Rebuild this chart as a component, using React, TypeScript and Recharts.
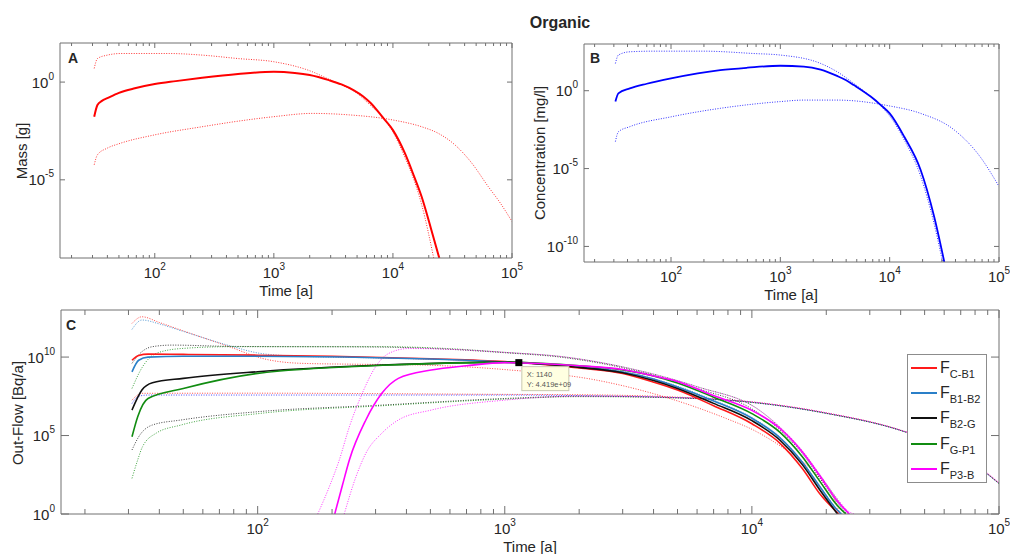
import { Legend, Line, LineChart, ReferenceDot, XAxis, YAxis } from "recharts";

const FONT = '"Liberation Sans", Arial, Helvetica, sans-serif';
const AXIS_GREY = "#707070";
const INK = "#262626";

// log time axis shared by the three panels
const timeDomain = [16, 100000];
const timeTicks = [
  20, 30, 40, 50, 60, 70, 80, 90, 100, 200, 300, 400, 500, 600, 700, 800, 900, 1000, 2000, 3000, 4000,
  5000, 6000, 7000, 8000, 9000, 10000, 20000, 30000, 40000, 50000, 60000, 70000, 80000, 90000, 100000,
];

const massDomain = [1e-9, 1e2];
const massTicks = [1e-5, 1];
const concDomain = [1e-11, 1e3];
const concTicks = [1e-10, 1e-5, 1];
const flowDomain = [1, 1e13];
const flowTicks = [1, 1e5, 1e10];

// panel A: mass [g] vs time [a] (t, value)
const massMid = [
  [31, 1.7e-2], [33, 6.8e-2], [36, 0.11], [40, 0.15], [50, 0.28], [68, 0.48], [100, 0.79], [150, 1.12],
  [250, 1.66], [500, 2.6], [1000, 3.4], [1500, 2.95], [2000, 2.3], [2900, 1.26], [3700, 0.76],
  [4700, 0.38], [5600, 0.19], [6500, 8.5e-2], [7400, 3.5e-2], [8350, 1.4e-2], [10000, 3.5e-3],
  [12600, 2.3e-4], [15000, 1.6e-5], [17400, 1.4e-6], [21000, 2.8e-8], [24500, 1e-9],
];
const massHigh = [
  [31, 5.0], [33, 16], [40, 24], [52, 29], [132, 29], [250, 24], [500, 16], [1000, 11], [2100, 3.4],
  [2900, 1.4], [3700, 0.72], [4700, 0.35], [6500, 6.3e-2], [8350, 1.4e-2], [10000, 2.8e-3],
  [12600, 1.4e-4], [15000, 1e-5], [17400, 5.6e-7], [22000, 1e-9],
];
const massLow = [
  [31, 5.9e-5], [33, 1.9e-4], [40, 4.2e-4], [50, 7e-4], [100, 2e-3], [250, 5.2e-3], [500, 1e-2],
  [1000, 1.7e-2], [2100, 2.5e-2], [4300, 2.1e-2], [10000, 1.15e-2], [17400, 5.2e-3], [24000, 2.4e-3],
  [33000, 6.3e-4], [46000, 7.1e-5], [63000, 4.6e-6], [80000, 6.3e-7], [100000, 7.4e-8],
];

// panel B: concentration [mg/l]
const concMid = [
  [31, 0.2], [33, 0.68], [42, 1.4], [60, 2.8], [100, 6.2], [282, 21], [500, 30], [1000, 40], [1640, 35.5],
  [2340, 22.4], [3300, 8.9], [4000, 4.7], [4700, 2.3], [6700, 0.42], [8300, 0.12], [10000, 3.5e-2],
  [13600, 1.1e-3], [19200, 8.1e-6], [25500, 8.3e-9], [31600, 1e-11],
];
const concHigh = [
  [31, 56], [33, 195], [42, 316], [69, 347], [198, 347], [570, 245], [1000, 195], [2340, 56],
  [3300, 16.6], [4700, 2.95], [6700, 0.42], [8300, 0.105], [10000, 2.4e-2], [13600, 6.9e-4],
  [19200, 3.2e-6], [25000, 5e-9], [30500, 1e-11],
];
const concLow = [
  [31, 5.4e-4], [33, 2.3e-3], [42, 4.9e-3], [100, 2.1e-2], [282, 7.4e-2], [1000, 0.2], [1640, 0.25],
  [3300, 0.25], [10000, 0.105], [19200, 3.5e-2], [39000, 3e-3], [67000, 5.9e-5], [100000, 7.1e-7],
];

// panel C: out-flow [Bq/a] per pathway, central run plus upper and lower runs
const flowCB1 = [
  [31, 6.3e9], [33, 1.26e10], [36, 1.55e10], [50, 1.48e10], [100, 1.32e10], [200, 1.12e10], [500, 7.9e9],
  [1000, 5.2e9], [2000, 2.0e9], [3000, 8.9e8], [4000, 2.5e8], [5000, 7.9e7], [7000, 7.9e6],
  [10000, 5.6e5], [13000, 3.2e4], [16000, 790], [19000, 16], [22500, 1],
];
const flowCB1Up = [
  [31, 1.4e12], [34, 3.7e12], [40, 1.6e12], [49, 5.2e11], [78, 4.2e10], [103, 8.7e9], [150, 4e9],
  [250, 3.5e9], [430, 3.2e9], [1000, 1.6e9], [2350, 3.4e8], [4400, 3e7], [8000, 1.1e6], [10000, 2.5e5],
  [12000, 5e4], [14000, 1e4], [17000, 1000], [19500, 100], [21500, 10], [22700, 1],
];
const flowCB1Low = [
  [31, 1.8e7], [34, 4.9e7], [100, 5e7], [1000, 4.2e7], [2000, 4e7], [5000, 2.8e7], [10000, 1.4e7],
  [20000, 2.8e6], [40000, 2.2e5], [70000, 6.3e3], [100000, 91],
];
const flowB1B2 = [
  [31, 1.15e9], [33, 6.3e9], [36, 1e10], [50, 1.12e10], [100, 1.12e10], [500, 7.6e9], [1000, 4.8e9],
  [2000, 2.4e9], [3000, 1.12e9], [4000, 4e8], [5000, 1.26e8], [7000, 1.6e7], [10000, 1.26e6],
  [13000, 7.1e4], [16000, 2e3], [19000, 45], [22000, 2], [23000, 1],
];
const flowB1B2Up = [
  [31, 5.8e11], [34, 2.3e12], [40, 1.3e12], [49, 4.8e11], [78, 5e10], [103, 1.7e10], [150, 1.12e10],
  [300, 8.9e9], [1000, 5e9], [2000, 2.5e9], [3000, 1.2e9], [5000, 1.4e8], [7000, 1.8e7], [10000, 1.4e6],
  [13000, 7.9e4], [16000, 2.2e3], [19000, 50], [22000, 2.2], [23300, 1],
];
const flowB1B2Low = [
  [31, 1.1e7], [33, 3.2e7], [36, 3.8e7], [100, 3.8e7], [1000, 3.8e7], [2000, 3.5e7], [5000, 2.6e7],
  [10000, 1.3e7], [20000, 2.6e6], [40000, 2.1e5], [70000, 6e3], [100000, 85],
];
const flowB2G = [
  [31, 4.2e6], [34, 7.9e7], [37.5, 2.3e8], [50, 4.4e8], [100, 1.17e9], [320, 3.1e9], [1000, 4.8e9],
  [2000, 2.2e9], [3000, 1e9], [4000, 3.2e8], [5000, 1e8], [7000, 1.12e7], [10000, 8.9e5], [13000, 5e4],
  [16000, 1.4e3], [19000, 28], [22200, 1],
];
const flowB2GUp = [
  [31, 4e9], [34, 2.2e10], [37.5, 4.6e10], [45, 5.8e10], [78, 4.8e10], [300, 4.4e10], [1000, 1.9e10],
  [1720, 9.5e9], [3200, 1.66e9], [6000, 1e8], [10000, 5e6], [13000, 2.2e5], [16000, 7.1e3], [19000, 160],
  [22000, 6.3], [24200, 1],
];
const flowB2GLow = [
  [31, 1.2e4], [33, 8.3e4], [37.5, 4.7e5], [49, 9.8e5], [100, 3.3e6], [318, 8.7e6], [1000, 2.3e7],
  [2000, 3.2e7], [5000, 2.5e7], [10000, 1.3e7], [20000, 2.6e6], [40000, 2.1e5], [70000, 6.3e3],
  [100000, 89],
];
const flowGP1 = [
  [31, 8.3e4], [32.7, 1.6e6], [36, 2.3e7], [50, 1e8], [100, 9.1e8], [320, 3e9], [1000, 4.6e9],
  [2000, 2.8e9], [3000, 1.5e9], [4000, 6.3e8], [5000, 2.2e8], [7000, 2.8e7], [10000, 2.5e6],
  [13000, 1.6e5], [16000, 4.5e3], [19000, 100], [22000, 4], [24000, 1],
];
const flowGP1Up = [
  [31, 1e8], [34.2, 2.4e9], [38.8, 1.7e10], [49, 3.5e10], [78, 4.6e10], [318, 4.6e10], [587, 3.5e10],
  [1000, 2e10], [1720, 1.05e10], [3200, 1.9e9], [6000, 1.3e8], [10700, 4.2e6], [13000, 3.2e5],
  [16000, 1e4], [19000, 250], [22000, 10], [24500, 1],
];
const flowGP1Low = [
  [31, 186], [32.7, 2.8e3], [34.2, 1.95e4], [38.8, 1.4e5], [49, 4.7e5], [103, 2.6e6], [318, 7.9e6],
  [1000, 2.1e7], [2000, 3e7], [5000, 2.5e7], [10000, 1.3e7], [20000, 2.6e6], [40000, 2.1e5],
  [70000, 6.3e3], [100000, 89],
];
const flowP3B = [
  [205, 1], [220, 63], [235, 2.8e3], [274, 9.8e5], [318, 4.9e7], [371, 4.4e8], [504, 1.5e9], [700, 2.8e9],
  [1000, 4.4e9], [2000, 2.8e9], [3000, 1.6e9], [4000, 6.3e8], [5000, 2.8e8], [7000, 3.5e7], [10000, 4e6],
  [13000, 2.8e5], [16000, 8.9e3], [19000, 220], [22000, 7.9], [24800, 1],
];
const flowP3BUp = [
  [175, 1], [195, 55], [214, 2.8e3], [235, 3.6e5], [265, 4.9e7], [300, 2.4e9], [339, 1.7e10],
  [407, 3.5e10], [587, 3.2e10], [1000, 2e10], [1720, 1.05e10], [3200, 1.9e9], [6000, 1.3e8],
  [10700, 4.2e6], [13000, 3.5e5], [16000, 1.1e4], [19000, 280], [22000, 11], [25000, 1.26], [26000, 1],
];
const flowP3BLow = [
  [224, 1], [250, 240], [274, 7.4e3], [318, 1.4e5], [371, 9.8e5], [504, 4.2e6], [1000, 1.8e7],
  [2000, 3.2e7], [5000, 2.6e7], [10000, 1.4e7], [20000, 2.8e6], [40000, 2.2e5], [70000, 7.1e3],
  [100000, 100],
];

const flowSeries = [
  { name: "C-B1", color: "#ff1a1a", lowColor: "#ff1a1a", mid: flowCB1, up: flowCB1Up, low: flowCB1Low },
  { name: "B1-B2", color: "#2a7fc8", lowColor: "#1f1fff", mid: flowB1B2, up: flowB1B2Up, low: flowB1B2Low },
  { name: "B2-G", color: "#111111", lowColor: "#111111", mid: flowB2G, up: flowB2GUp, low: flowB2GLow },
  { name: "G-P1", color: "#118c11", lowColor: "#118c11", mid: flowGP1, up: flowGP1Up, low: flowGP1Low },
  { name: "P3-B", color: "#ff00ff", lowColor: "#ff00ff", mid: flowP3B, up: flowP3BUp, low: flowP3BLow },
];

// data tip pinned on the flow panel
const tipTime = 1140;
const tipFlow = 4.419e9;

const rows = (pts: number[][]) => pts.map(([t, v]) => ({ t, v }));
const expOf = (v: number) => Math.round(Math.log10(v));
const isDecade = (v: number) => Math.abs(Math.log10(v) - expOf(v)) < 1e-6;

function fmtExp(v: number) {
  const [m, e] = v.toExponential(3).split("e");
  const n = Number(e);
  return `${m}e${n < 0 ? "-" : "+"}${String(Math.abs(n)).padStart(2, "0")}`;
}

function Pow10({ x, y, exp, anchor }: { x: number; y: number; exp: number; anchor: "middle" | "end" }) {
  return (
    <text x={x} y={y} textAnchor={anchor} fontSize={15} fill={INK}>
      10
      <tspan dy={-8} fontSize={10}>
        {exp}
      </tspan>
    </text>
  );
}

function TimeTick(props: any) {
  const { x = 0, y = 0, payload, side, major, minor } = props;
  const v = payload.value;
  const dec = isDecade(v);
  const len = dec ? major : minor;
  const dir = side === "bottom" ? -1 : 1;
  return (
    <g>
      <line x1={x} x2={x} y1={y} y2={y + dir * len} stroke={AXIS_GREY} />
      {side === "bottom" && dec && <Pow10 x={x} y={y + 20} exp={expOf(v)} anchor="middle" />}
    </g>
  );
}

function ValueTick(props: any) {
  const { x = 0, y = 0, payload, side, len } = props;
  const dir = side === "left" ? 1 : -1;
  return (
    <g>
      <line x1={x} x2={x + dir * len} y1={y} y2={y} stroke={AXIS_GREY} />
      {side === "left" && <Pow10 x={x - 6} y={y + 5.5} exp={expOf(payload.value)} anchor="end" />}
    </g>
  );
}

function solid(pts: number[][], color: string, width: number, key: string) {
  return (
    <Line key={key} data={rows(pts)} dataKey="v" type="monotone" stroke={color} strokeWidth={width}
      dot={false} activeDot={false} legendType="none" isAnimationActive={false} />
  );
}

function dotted(pts: number[][], color: string, key: string) {
  return (
    <Line key={key} data={rows(pts)} dataKey="v" type="monotone" stroke={color} strokeWidth={1}
      strokeOpacity={0.8} strokeDasharray="1 1.5" dot={false} activeDot={false} legendType="none"
      isAnimationActive={false} />
  );
}

function LogPanel(props: any) {
  const { width, height, margin, yDomain, yTicks, major, minor, children } = props;
  const axisLine = { stroke: AXIS_GREY };
  return (
    <LineChart width={width} height={height} margin={margin}>
      <XAxis dataKey="t" type="number" scale="log" domain={timeDomain} ticks={timeTicks} allowDataOverflow
        interval={0} height={5} tickLine={false} tickSize={0} tickMargin={0} axisLine={axisLine}
        tick={(p: any) => <TimeTick {...p} side="bottom" major={major} minor={minor} />} />
      <XAxis xAxisId="top" orientation="top" dataKey="t" type="number" scale="log" domain={timeDomain}
        ticks={timeTicks} allowDataOverflow interval={0} height={5} tickLine={false} tickSize={0}
        tickMargin={0} axisLine={axisLine}
        tick={(p: any) => <TimeTick {...p} side="top" major={major} minor={minor} />} />
      <YAxis type="number" scale="log" domain={yDomain} ticks={yTicks} allowDataOverflow interval={0}
        width={5} tickLine={false} tickSize={0} tickMargin={0} axisLine={axisLine}
        tick={(p: any) => <ValueTick {...p} side="left" len={major} />} />
      <YAxis yAxisId="right" orientation="right" type="number" scale="log" domain={yDomain} ticks={yTicks}
        allowDataOverflow interval={0} width={5} tickLine={false} tickSize={0} tickMargin={0}
        axisLine={axisLine} tick={(p: any) => <ValueTick {...p} side="right" len={major} />} />
      {children}
    </LineChart>
  );
}

function Caption({ x, y, text, size = 15, bold = false, rotate = false }: any) {
  return (
    <div
      style={{
        position: "absolute", left: x, top: y, fontSize: size, fontWeight: bold ? 700 : 400,
        lineHeight: 1, whiteSpace: "nowrap", color: INK,
        transform: `translate(-50%, -50%)${rotate ? " rotate(-90deg)" : ""}`,
      }}
    >
      {text}
    </div>
  );
}

function FlowLegend() {
  return (
    <div style={{ width: 78, border: "1px solid #8c8c8c", background: "#fff", fontFamily: FONT }}>
      {flowSeries.map((s) => (
        <div key={s.name} style={{ height: 25.4, display: "flex", alignItems: "center" }}>
          <span style={{ width: 26, marginLeft: 3, borderTop: `2px solid ${s.color}` }} />
          <span style={{ marginLeft: 3, fontSize: 16, lineHeight: 1, color: INK }}>
            F
            <span style={{ fontSize: 11, position: "relative", top: 5 }}>{s.name}</span>
          </span>
        </div>
      ))}
    </div>
  );
}

function DataTip(props: any) {
  const { cx = 0, cy = 0 } = props;
  return (
    <g>
      <rect x={cx - 3.5} y={cy - 3.5} width={7} height={7} fill="#000" />
      <rect x={cx + 3} y={cy + 4} width={47} height={24} fill="#ffffe1" stroke="#c9c9b0" />
      <text x={cx + 8} y={cy + 14.5} fontSize={7.5} fill="#555">X: {tipTime}</text>
      <text x={cx + 8} y={cy + 24} fontSize={7.5} fill="#555">Y: {fmtExp(tipFlow)}</text>
    </g>
  );
}

export default function App() {
  return (
    <div style={{ position: "absolute", left: 0, top: 0, width: 1010, height: 554, background: "#fff", fontFamily: FONT }}>
      <div style={{ position: "absolute", left: 0, top: 0 }}>
        <LogPanel width={530} height={300} margin={{ top: 38, left: 55, right: 13, bottom: 37 }}
          yDomain={massDomain} yTicks={massTicks} major={5} minor={3}>
          {dotted(massLow, "#ff0000", "mlow")}
          {dotted(massHigh, "#ff0000", "mhigh")}
          {solid(massMid, "#ff0000", 2, "mmid")}
        </LogPanel>
      </div>

      <div style={{ position: "absolute", left: 520, top: 0 }}>
        <LogPanel width={490} height={310} margin={{ top: 39, left: 59, right: 6, bottom: 43 }}
          yDomain={concDomain} yTicks={concTicks} major={5} minor={3}>
          {dotted(concLow, "#0000ff", "clow")}
          {dotted(concHigh, "#0000ff", "chigh")}
          {solid(concMid, "#0000ff", 1.8, "cmid")}
        </LogPanel>
      </div>

      <div style={{ position: "absolute", left: 0, top: 300 }}>
        <LogPanel width={1010} height={254} margin={{ top: 5, left: 56, right: 6, bottom: 35 }}
          yDomain={flowDomain} yTicks={flowTicks} major={8} minor={5}>
          {flowSeries.map((s) => dotted(s.low, s.lowColor, `${s.name}-low`))}
          {flowSeries.map((s) => dotted(s.up, s.color, `${s.name}-up`))}
          {flowSeries.map((s) => solid(s.mid, s.color, 1.6, `${s.name}-mid`))}
          <ReferenceDot x={tipTime} y={tipFlow} shape={(p: any) => <DataTip {...p} />} />
          <Legend layout="vertical" align="center" verticalAlign="middle"
            wrapperStyle={{ left: 907, top: 54, width: 80 }} content={() => <FlowLegend />} />
        </LogPanel>
      </div>

      <Caption x={560} y={23} text="Organic" size={16} bold />
      <Caption x={73} y={58} text="A" size={14} bold />
      <Caption x={595} y={58} text="B" size={14} bold />
      <Caption x={71} y={325} text="C" size={14} bold />
      <Caption x={21} y={151} text="Mass [g]" rotate />
      <Caption x={539} y={153} text="Concentration [mg/l]" rotate />
      <Caption x={17} y={413} text="Out-Flow [Bq/a]" rotate />
      <Caption x={286} y={290} text="Time [a]" />
      <Caption x={791} y={294} text="Time [a]" />
      <Caption x={530} y={546} text="Time [a]" />
    </div>
  );
}
